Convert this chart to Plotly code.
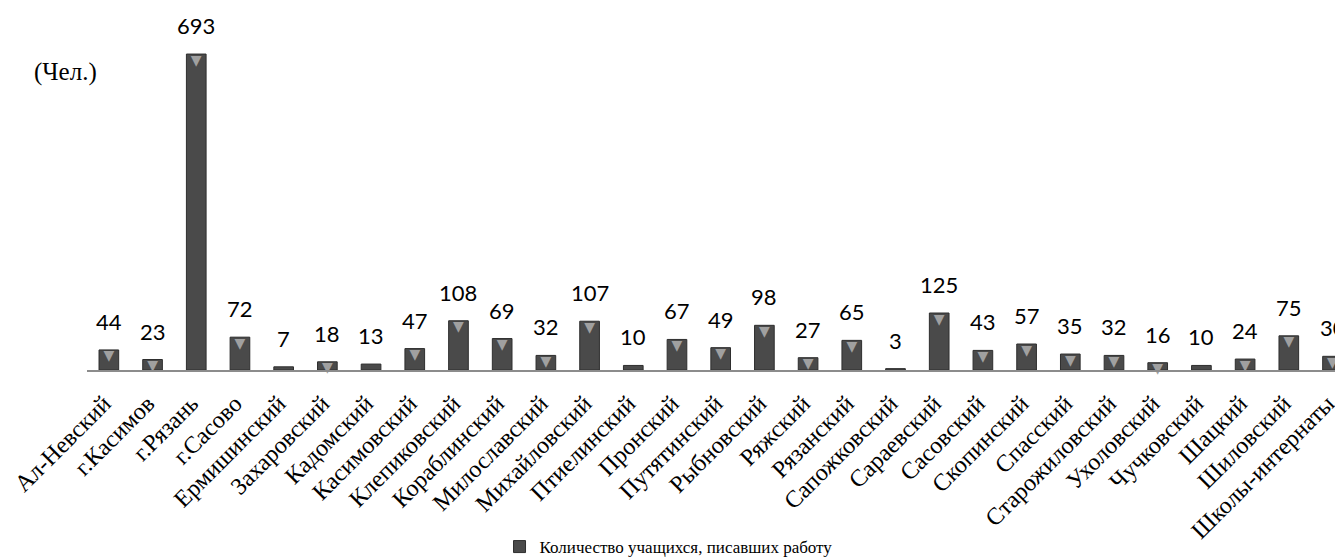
import plotly.graph_objects as go

categories = ["Ал-Невский", "г.Касимов", "г.Рязань", "г.Сасово", "Ермишинский",
              "Захаровский", "Кадомский", "Касимовский", "Клепиковский", "Кораблинский",
              "Милославский", "Михайловский", "Птиелинский", "Пронский", "Путятинский",
              "Рыбновский", "Ряжский", "Рязанский", "Сапожковский", "Сараевский",
              "Сасовский", "Скопинский", "Спасский", "Старожиловский", "Ухоловский",
              "Чучковский", "Шацкий", "Шиловский", "Школы-интернаты"]
values = [44, 23, 693, 72, 7, 18, 13, 47, 108, 69, 32, 107, 10, 67, 49, 98, 27, 65,
          3, 125, 43, 57, 35, 32, 16, 10, 24, 75, 30]
series_name = "Количество учащихся, писавших работу"

fig = go.Figure()
fig.add_trace(go.Bar(
    x=categories, y=values, name=series_name,
    marker=dict(color="#4a4a4a", line=dict(color="#2e2e2e", width=1)),
))
# bevel highlight
fig.add_trace(go.Scatter(
    x=categories, y=values, mode="text",
    text=["▼" if v >= 15 else "" for v in values],
    textposition="bottom center",
    textfont=dict(family="DejaVu Sans", size=14, color="#a0a0a0"),
    showlegend=False, hoverinfo="skip", cliponaxis=False,
))

for c, v in zip(categories, values):
    fig.add_annotation(x=c, y=v, text=str(v), showarrow=False, yanchor="bottom",
                       yshift=13, font=dict(family="Lato", size=22, color="#000000"))

fig.add_annotation(xref="paper", yref="paper", x=-0.017, y=0.823, text="(Чел.)",
                   showarrow=False, xanchor="center", yanchor="middle",
                   font=dict(family="Liberation Serif", size=25, color="#000000"))

fig.update_layout(
    width=1343, height=560,
    margin=dict(l=79, r=8, t=0, b=198, autoexpand=False),
    paper_bgcolor="white", plot_bgcolor="white",
    bargap=0.55,
    showlegend=True,
    legend=dict(orientation="h", x=0.463, xanchor="center", y=-0.489, yanchor="middle",
                font=dict(family="Liberation Serif", size=17, color="#000000"),
                itemwidth=30),
    font=dict(family="Liberation Serif", color="#000000"),
)
fig.update_xaxes(range=[-0.5, 28.24], tickangle=-45, showline=True, linecolor="#8c8c8c",
                 linewidth=2, ticks="", showgrid=False, ticklabelshift=-5,
                 ticklabelstandoff=8, automargin=False,
                 tickfont=dict(family="Liberation Serif", size=24, color="#000000"))
fig.update_yaxes(range=[0, 794], visible=False, showgrid=False, automargin=False)

fig.write_html("out.html")
